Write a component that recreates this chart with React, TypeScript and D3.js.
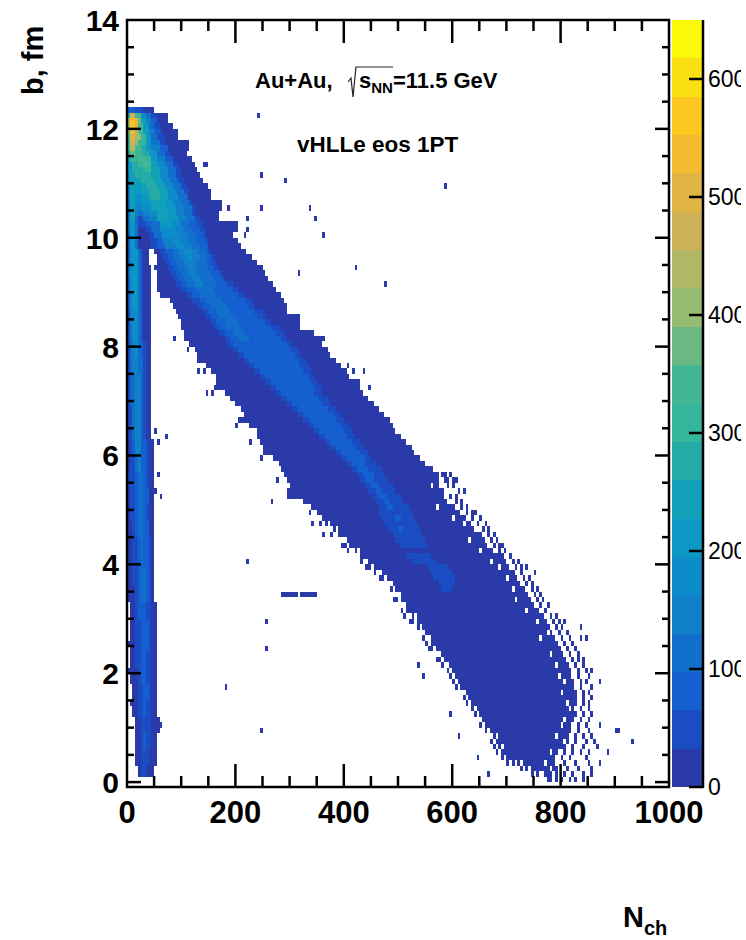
import React, { useEffect, useRef } from 'react';
import * as d3 from 'd3';

// colour of each of the 20 palette contours, lowest first
const bandColors = [
  '#2a3aa8', '#1a4cc4', '#1560d0', '#1270cc', '#1080c8', '#0c8cc8', '#0c98c4', '#10a0b8', '#25aba5', '#35b59a',
  '#45b695', '#6cb882', '#95bc70', '#b0b868', '#cdb058', '#e0b442', '#f2bb32', '#fcc820', '#fae010', '#fcf80a',
];
const bandTop = 650;
const bandStep = bandTop / bandColors.length;

const xMajor = [0, 200, 400, 600, 800, 1000];
const xMinor = [50, 100, 150, 250, 300, 350, 450, 500, 550, 650, 700, 750, 850, 900, 950];
const yMajor = [0, 2, 4, 6, 8, 10, 12, 14];
const yMinor = [0.5, 1, 1.5, 2.5, 3, 3.5, 4.5, 5, 5.5, 6.5, 7, 7.5, 8.5, 9, 9.5, 10.5, 11, 11.5, 12.5, 13, 13.5];
const zTicks = [0, 100, 200, 300, 400, 500, 600];

// rows above b=9.8: [b, nch, band, nch, band, ..., end nch]
const topRows = [
  [12.3, 0, 2, 15, 1, 30, 0, 46],
  [12.2, 0, 8, 5, 14, 15, 10, 25, 5, 35, 3, 45, 1, 55, 0, 75],
  [12.1, 0, 13, 5, 17, 15, 15, 20, 11, 25, 7, 35, 4, 45, 2, 55, 0, 75],
  [12.0, 0, 12, 5, 17, 15, 15, 20, 10, 30, 6, 40, 3, 50, 1, 60, 0, 85],
  [11.9, 0, 11, 5, 16, 15, 13, 20, 10, 30, 7, 40, 4, 50, 2, 60, 1, 65, 0, 95],
  [11.8, 0, 10, 5, 15, 15, 12, 25, 9, 35, 6, 45, 3, 55, 1, 70, 0, 95],
  [11.7, 0, 9, 5, 14, 15, 12, 20, 9, 35, 6, 45, 3, 60, 1, 70, 0, 115],
  [11.6, 0, 9, 5, 13, 15, 10, 25, 8, 35, 6, 45, 4, 60, 2, 75, 0, 115],
  [11.5, 0, 8, 5, 11, 15, 9, 30, 8, 40, 6, 55, 3, 70, 1, 80, 0, 110],
  [11.4, 0, 7, 5, 9, 20, 10, 35, 9, 45, 6, 55, 4, 70, 2, 85, 0, 120],
  [11.3, 0, 6, 10, 8, 20, 9, 30, 10, 45, 7, 55, 5, 70, 3, 85, 1, 95, 0, 125],
  [11.2, 0, 6, 10, 8, 30, 9, 45, 7, 60, 5, 75, 3, 90, 1, 100, 0, 130],
  [11.1, 0, 5, 5, 7, 15, 8, 45, 7, 60, 5, 75, 3, 90, 1, 100, 0, 135],
  [11.0, 0, 5, 5, 7, 25, 8, 50, 7, 65, 5, 80, 3, 95, 1, 105, 0, 140],
  [10.9, 0, 4, 5, 7, 15, 6, 25, 7, 35, 8, 55, 7, 70, 5, 85, 3, 100, 1, 110, 0, 150],
  [10.8, 0, 4, 5, 7, 15, 6, 25, 7, 40, 8, 60, 7, 75, 5, 90, 3, 105, 1, 115, 0, 155],
  [10.7, 0, 4, 5, 7, 15, 5, 25, 6, 40, 8, 60, 7, 75, 5, 95, 3, 110, 1, 115, 0, 155],
  [10.6, 0, 3, 5, 7, 15, 5, 25, 6, 45, 7, 70, 6, 85, 4, 100, 3, 115, 1, 120, 0, 175],
  [10.5, 0, 3, 5, 7, 15, 4, 25, 5, 45, 7, 70, 6, 90, 4, 105, 3, 120, 1, 125, 0, 175],
  [10.4, 0, 3, 5, 7, 15, 4, 20, 3, 30, 4, 40, 5, 55, 7, 75, 6, 90, 4, 105, 3, 120, 1, 125, 0, 170],
  [10.3, 0, 3, 5, 7, 15, 3, 20, 1, 30, 3, 40, 4, 55, 7, 75, 6, 95, 4, 110, 3, 125, 1, 135, 0, 170],
  [10.2, 0, 3, 5, 6, 15, 3, 20, 1, 35, 2, 45, 3, 60, 6, 85, 5, 100, 3, 115, 2, 130, 1, 140, 0, 205],
  [10.1, 0, 3, 5, 6, 15, 3, 20, 0, 35, 1, 45, 3, 60, 5, 90, 4, 105, 3, 120, 2, 135, 1, 145, 0, 205],
  [10.0, 0, 2, 5, 6, 15, 3, 20, 0, 40, 1, 50, 3, 65, 5, 95, 4, 110, 3, 125, 2, 140, 1, 145, 0, 195],
  [9.9, 0, 2, 5, 6, 15, 3, 20, 0, 45, 1, 55, 2, 65, 4, 85, 5, 100, 4, 115, 3, 130, 2, 145, 1, 150, 0, 205],
  [9.8, 0, 2, 5, 6, 15, 3, 20, 0, 45, 1, 55, 2, 70, 4, 90, 5, 105, 4, 120, 3, 135, 2, 150, 0, 210],
];

// low-multiplicity streak below b=9.8: [b from, b to, left, right, nch, band, ..., end nch]
const streakRows = [
  [9.5, 9.8, 0, 40, 0, 2, 5, 5, 10, 6, 20, 3, 25, 1, 30],
  [9.3, 9.5, 0, 42, 0, 3, 5, 5, 10, 6, 20, 3, 25, 1, 30],
  [9.0, 9.3, 0, 42, 0, 2, 5, 5, 10, 6, 20, 3, 25, 1, 30],
  [8.7, 9.0, 0, 42, 0, 2, 5, 4, 10, 6, 20, 3, 25, 1, 30],
  [8.4, 8.7, 0, 42, 0, 1, 5, 4, 10, 5, 20, 3, 25, 1, 30],
  [8.1, 8.4, 0, 42, 0, 1, 5, 3, 10, 5, 20, 3, 25, 1, 30],
  [7.8, 8.1, 0, 42, 0, 1, 5, 3, 10, 4, 15, 5, 20, 3, 25, 2, 30, 1, 35],
  [7.5, 7.8, 0, 45, 0, 1, 5, 3, 10, 4, 20, 3, 30, 1, 35],
  [7.2, 7.5, 0, 45, 0, 1, 5, 2, 10, 3, 15, 4, 25, 2, 30, 1, 35],
  [6.9, 7.2, 0, 45, 0, 1, 5, 2, 10, 3, 15, 4, 25, 2, 30, 1, 35],
  [6.6, 6.9, 0, 45, 0, 1, 10, 3, 15, 4, 25, 2, 30, 1, 35],
  [6.3, 6.6, 0, 45, 0, 1, 10, 3, 15, 4, 25, 2, 30, 1, 35],
  [6.0, 6.3, 0, 50, 5, 1, 10, 2, 15, 4, 25, 2, 35, 1, 40],
  [5.7, 6.0, 0, 50, 5, 1, 15, 3, 20, 4, 25, 2, 35, 1, 40],
  [5.4, 5.7, 0, 50, 0, 1, 15, 2, 20, 3, 30, 2, 35, 1, 40],
  [5.1, 5.4, 0, 50, 5, 1, 15, 2, 20, 3, 30, 2, 40],
  [4.8, 5.1, 0, 50, 5, 1, 15, 2, 20, 3, 30, 2, 35, 1, 40],
  [4.5, 4.8, 0, 50, 10, 1, 15, 2, 20, 3, 30, 2, 40],
  [4.2, 4.5, 0, 50, 10, 1, 20, 2, 25, 3, 30, 2, 40, 1, 45],
  [3.9, 4.2, 0, 50, 10, 1, 20, 2, 25, 3, 30, 2, 40, 1, 45],
  [3.6, 3.9, 0, 50, 10, 1, 20, 2, 25, 3, 35, 2, 40, 1, 45],
  [3.3, 3.6, 0, 50, 15, 1, 20, 2, 25, 3, 35, 2, 40, 1, 45],
  [3.0, 3.3, 5, 52, 15, 1, 20, 2, 35, 1, 45],
  [2.7, 3.0, 5, 52, 15, 1, 25, 2, 40, 1, 45],
  [2.4, 2.7, 5, 52, 15, 1, 25, 2, 40, 1, 45],
  [2.1, 2.4, 5, 55, 15, 1, 25, 2, 35, 1, 45],
  [1.8, 2.1, 5, 55, 20, 1, 25, 2, 35, 1, 45],
  [1.5, 1.8, 10, 55, 20, 1, 30, 2, 40, 1, 45],
  [1.2, 1.5, 10, 55, 20, 1, 30, 2, 35, 1, 45],
  [0.9, 1.2, 15, 57, 25, 1, 45],
  [0.6, 0.9, 15, 55, 25, 1, 30, 2, 35, 1, 45],
  [0.3, 0.6, 15, 53, 25, 1, 40],
  [0.1, 0.3, 20, 48, 25, 1, 35],
];

// main ridge below b=9.8, dark contour extent: [b, left nch, right nch]
const ridgeEdges = [
  [9.7, 50, 220], [9.6, 55, 230], [9.5, 55, 240], [9.4, 50, 250], [9.3, 55, 255], [9.2, 55, 260], [9.1, 55, 270],
  [9.0, 55, 275], [8.9, 60, 285], [8.8, 80, 290], [8.7, 85, 295], [8.6, 90, 295], [8.5, 95, 320], [8.4, 100, 320],
  [8.3, 100, 320], [8.2, 105, 345], [8.1, 105, 365], [8.0, 115, 360], [7.9, 125, 370], [7.8, 130, 375], [7.7, 130, 385],
  [7.6, 145, 395], [7.5, 155, 405], [7.4, 165, 410], [7.3, 165, 430], [7.2, 160, 430], [7.1, 180, 435], [7.0, 190, 445],
  [6.9, 200, 455], [6.8, 210, 465], [6.7, 215, 475], [6.6, 205, 485], [6.5, 225, 490], [6.4, 240, 495], [6.3, 240, 505],
  [6.2, 245, 515], [6.1, 250, 525], [6.0, 250, 530], [5.9, 270, 540], [5.8, 280, 550], [5.7, 285, 565], [5.6, 290, 575],
  [5.5, 295, 575], [5.4, 300, 575], [5.3, 295, 585], [5.2, 310, 585], [5.1, 325, 595], [5.0, 340, 605], [4.9, 350, 615],
  [4.8, 360, 625], [4.7, 375, 635], [4.6, 380, 645], [4.5, 390, 655], [4.4, 400, 660], [4.3, 410, 665], [4.2, 420, 675],
  [4.1, 430, 695], [4.0, 445, 700], [3.9, 455, 705], [3.8, 470, 715], [3.7, 480, 720], [3.6, 490, 725], [3.5, 495, 735],
  [3.4, 500, 740], [3.3, 505, 745], [3.2, 510, 750], [3.1, 515, 760], [3.0, 525, 770], [2.9, 535, 775], [2.8, 545, 780],
  [2.7, 550, 785], [2.6, 555, 790], [2.5, 560, 795], [2.4, 570, 800], [2.3, 580, 805], [2.2, 585, 810], [2.1, 590, 815],
  [2.0, 600, 820], [1.9, 605, 820], [1.8, 610, 825], [1.7, 615, 825], [1.6, 625, 830], [1.5, 630, 830], [1.4, 635, 830],
  [1.3, 645, 825], [1.2, 650, 830], [1.1, 655, 825], [1.0, 660, 820], [0.9, 670, 820], [0.8, 675, 815], [0.7, 680, 815],
  [0.6, 685, 810], [0.5, 690, 795], [0.4, 700, 790], [0.3, 720, 790], [0.2, 735, 795], [0.1, 755, 795], [0.0, 775, 805],
];

// brighter contours inside the ridge: [b, nch, band, ..., end nch]
const ridgeInner = [
  [9.7, 60, 1, 70, 2, 85, 3, 95, 4, 105, 5, 120, 4, 130, 3, 145, 2, 150, 1, 155],
  [9.6, 65, 1, 75, 2, 85, 3, 100, 4, 110, 5, 120, 4, 135, 3, 145, 2, 155, 1, 160],
  [9.5, 70, 1, 80, 2, 90, 3, 105, 4, 125, 3, 145, 2, 155, 1, 165],
  [9.4, 75, 1, 85, 2, 95, 3, 110, 4, 125, 3, 150, 2, 160, 1, 170],
  [9.3, 80, 1, 90, 2, 100, 3, 115, 4, 130, 3, 155, 2, 170, 1, 175],
  [9.2, 85, 1, 95, 2, 105, 3, 120, 4, 135, 3, 160, 2, 175, 1, 180],
  [9.1, 90, 1, 100, 2, 110, 3, 125, 4, 140, 3, 165, 2, 185, 1, 195],
  [9.0, 100, 1, 110, 2, 125, 3, 160, 2, 195, 1, 205],
  [8.9, 110, 1, 120, 2, 135, 3, 165, 2, 205, 1, 215],
  [8.8, 120, 1, 135, 2, 145, 3, 175, 2, 220, 1, 230],
  [8.7, 130, 1, 140, 2, 155, 3, 185, 2, 225, 1, 235],
  [8.6, 140, 1, 150, 2, 165, 3, 190, 2, 235, 1, 250],
  [8.5, 145, 1, 155, 2, 170, 3, 195, 2, 240, 1, 255],
  [8.4, 155, 1, 165, 2, 180, 3, 205, 2, 255, 1, 265],
  [8.3, 160, 1, 170, 2, 185, 3, 210, 2, 265, 1, 280],
  [8.2, 170, 1, 180, 2, 195, 3, 215, 2, 275, 1, 290],
  [8.1, 180, 1, 190, 2, 205, 3, 225, 2, 285, 1, 295],
  [8.0, 185, 1, 195, 2, 295, 1, 305],
  [7.9, 195, 1, 205, 2, 300, 1, 315],
  [7.8, 205, 1, 215, 2, 310, 1, 320],
  [7.7, 215, 1, 225, 2, 315, 1, 330],
  [7.6, 225, 1, 235, 2, 320, 1, 335],
  [7.5, 235, 1, 245, 2, 325, 1, 340],
  [7.4, 245, 1, 255, 2, 335, 1, 345],
  [7.3, 255, 1, 265, 2, 340, 1, 350],
  [7.2, 265, 1, 275, 2, 345, 1, 358],
  [7.1, 275, 1, 285, 2, 345, 1, 360],
  [7.0, 285, 1, 295, 2, 355, 1, 370],
  [6.9, 295, 1, 305, 2, 360, 1, 375],
  [6.8, 305, 1, 315, 2, 370, 1, 385],
  [6.7, 315, 1, 325, 2, 380, 1, 395],
  [6.6, 325, 1, 335, 2, 385, 1, 400],
  [6.5, 335, 1, 345, 2, 395, 1, 410],
  [6.4, 345, 1, 355, 2, 400, 1, 415],
  [6.3, 355, 1, 365, 2, 405, 1, 420],
  [6.2, 365, 1, 375, 2, 415, 1, 430],
  [6.1, 375, 1, 385, 2, 420, 1, 435],
  [6.0, 385, 1, 395, 2, 430, 1, 445],
  [5.9, 395, 1, 405, 2, 440, 1, 450],
  [5.8, 405, 1, 415, 2, 440, 1, 460],
  [5.7, 415, 1, 425, 2, 445, 1, 470],
  [5.6, 425, 1, 435, 2, 455, 1, 475],
  [5.5, 430, 1, 440, 2, 455, 1, 480],
  [5.4, 440, 1, 450, 2, 465, 1, 490],
  [5.3, 445, 1, 460, 2, 470, 1, 495],
  [5.2, 455, 1, 465, 2, 480, 1, 505],
  [5.1, 460, 1, 475, 2, 485, 1, 510],
  [5.0, 465, 1, 480, 2, 490, 1, 520],
  [4.9, 465, 1, 525],
  [4.8, 470, 1, 495, 2, 505, 1, 530],
  [4.7, 475, 1, 535],
  [4.6, 480, 1, 500, 2, 510, 1, 540],
  [4.5, 490, 1, 545],
  [4.4, 495, 1, 550],
  [4.3, 505, 1, 555],
  [4.1, 515, 1, 560],
  [4.0, 525, 1, 570],
  [3.9, 555, 1, 590],
  [3.8, 560, 1, 600],
  [3.7, 565, 1, 605],
  [3.6, 575, 1, 605],
  [3.5, 580, 1, 600],
];

// isolated single-count bins: [nch, b]
const strayCells = [
  [240, 12.2], [245, 11.1], [290, 11.0], [140, 11.3], [145, 11.3], [185, 10.5], [245, 10.5], [335, 10.5], [345, 10.3],
  [220, 10.3], [220, 10.1], [215, 10.0], [315, 9.3], [585, 10.9], [475, 9.1], [360, 10.0], [420, 9.4],
  [85, 8.1], [110, 7.9], [140, 7.8], [130, 7.5], [140, 7.5], [145, 7.1], [155, 7.1], [70, 6.3], [55, 6.2], [60, 5.2],
  [265, 5.1], [360, 4.5], [200, 6.5], [225, 6.2], [245, 5.9], [275, 5.5], [295, 5.2], [300, 5.2], [305, 5.2], [310, 5.2],
  [340, 4.7], [375, 7.5], [415, 7.5], [435, 7.5], [405, 7.6], [445, 7.2], [450, 6.5], [460, 6.5],
  [535, 2.1], [545, 1.9], [610, 0.8], [595, 1.2], [665, 0.1], [645, 0.4], [905, 0.9], [900, 0.9], [930, 0.7], [885, 0.5],
  [222, 4.0], [258, 2.9], [258, 2.4], [180, 1.7], [249, 0.9],
  [285, 3.4], [290, 3.4], [295, 3.4], [300, 3.4], [305, 3.4], [310, 3.4], [320, 3.4], [325, 3.4], [330, 3.4], [335, 3.4], [340, 3.4], [345, 3.4],
  [50, 6.4], [55, 5.6], [50, 5.3], [60, 1.0], [0, 2.5], [0, 2.0], [5, 1.4],
];

// scattered bins around the ragged lower edges: [b, nch, nch, ...]
const speckleRows = [
  [5.6, 580, 585, 595], [5.5, 585, 590, 600, 605], [5.4, 590, 600], [5.3, 610, 620], [5.2, 595, 605], [5.1, 605, 615],
  [5.0, 615, 625], [4.9, 335, 625, 635, 640], [4.8, 635, 650], [4.7, 355, 365, 645, 660], [4.6, 655, 665], [4.5, 375, 665, 675],
  [4.4, 670, 680], [4.3, 395, 400, 675, 685, 690], [4.2, 405, 685, 695], [4.1, 705], [4.0, 430, 710, 720],
  [3.9, 440, 445, 715, 725, 735], [3.8, 455, 725, 750], [3.7, 465, 470, 730, 740], [3.6, 735, 745], [3.5, 485, 745, 755],
  [3.4, 750, 760], [3.3, 490, 495, 755, 765], [3.2, 760, 775], [3.1, 505, 770], [3.0, 510, 780, 790],
  [2.9, 520, 525, 785, 795, 805], [2.8, 535, 790, 800, 835], [2.7, 795, 810], [2.6, 545, 800, 815, 835, 845], [2.5, 550, 805, 820],
  [2.4, 555, 560, 810, 825], [2.3, 815, 830], [2.2, 570, 575, 820, 830, 840], [2.1, 580, 825, 840], [2.0, 590, 830, 845, 855],
  [1.9, 595, 830, 850], [1.8, 600, 835, 845, 870], [1.7, 605, 835, 855], [1.6, 840, 850], [1.5, 620, 840, 858], [1.4, 625, 840, 850],
  [1.3, 635, 835, 850], [1.2, 640, 840, 855], [1.1, 835, 850], [1.0, 650, 830, 845, 870], [0.9, 660, 830, 850],
  [0.8, 825, 840, 855], [0.7, 670, 825, 845, 860], [0.6, 675, 820, 840, 865], [0.5, 680, 805, 820, 835, 850], [0.4, 690, 800, 815, 845],
  [0.3, 700, 710, 805, 825, 850, 870], [0.2, 725, 810, 830, 855], [0.1, 745, 805, 820, 840, 855], [0.0, 815, 825, 840],
];

// empty bins inside the dark contour near its edges: [nch, b]
const holeCells = [
  [560, 5.4], [570, 5.0], [590, 5.1], [600, 4.8], [620, 4.7], [630, 4.4], [640, 4.6], [650, 4.2], [670, 4.0], [685, 3.9],
  [700, 3.7], [710, 3.5], [715, 3.3], [735, 3.1], [755, 2.9], [760, 2.6], [775, 2.7], [780, 2.3], [790, 2.1], [795, 1.9],
  [805, 1.8], [800, 1.6], [810, 1.4], [815, 1.3], [805, 1.1], [800, 1.0], [790, 0.8], [805, 0.7], [780, 0.5], [770, 0.3],
  [780, 0.2], [765, 0.1], [785, 0.1], [785, 0.0], [795, 0.0],
  [640, 1.3], [650, 1.1], [665, 0.9], [680, 0.8], [690, 0.6], [695, 0.4], [725, 0.3], [740, 0.2], [760, 0.1], [620, 1.6],
  [590, 2.1], [575, 2.3], [555, 2.6], [540, 2.8], [530, 3.0], [510, 3.2], [500, 3.4], [485, 3.6], [465, 3.8], [440, 4.0],
  [425, 4.2], [400, 4.4], [385, 4.6], [370, 4.7], [335, 5.0],
];

const cellKey = (nch: number, b: number) => `${Math.round(nch)}|${Math.round(b * 10)}`;

const App = () => {
  const svgRef = useRef<SVGSVGElement | null>(null);

  useEffect(() => {
    const svg = d3.select(svgRef.current);
    svg.selectAll('*').remove();

    const x = d3.scaleLinear().domain([0, 1000]).range([127, 669]);
    const y = d3.scaleLinear().domain([-0.09, 14]).range([787, 20]);
    const z = d3.scaleLinear().domain([0, bandTop]).range([787, 20]);

    // paint runs into a grid of 5 x 0.1 bins
    const grid = new Map<string, { nch: number; b: number; band: number }>();
    const paint = (nch: number, b: number, band: number) => grid.set(cellKey(nch, b), { nch, b, band });
    const paintRuns = (b: number, runs: number[]) => {
      for (let i = 0; i + 2 < runs.length; i += 2) {
        for (const n of d3.range(runs[i], runs[i + 2], 5)) paint(n, b, runs[i + 1]);
      }
    };

    topRows.forEach(([b, ...runs]) => paintRuns(b, runs));
    streakRows.forEach(([from, to, left, right, ...runs]) => {
      for (let k = Math.round(from * 10); k < Math.round(to * 10); k++) {
        paintRuns(k / 10, [left, 0, right]);
        paintRuns(k / 10, runs);
      }
    });
    ridgeEdges.forEach(([b, left, right]) => paintRuns(b, [left, 0, right]));
    ridgeInner.forEach(([b, ...runs]) => paintRuns(b, runs));
    strayCells.forEach(([nch, b]) => paint(Math.floor(nch / 5) * 5, b, 0));
    speckleRows.forEach(([b, ...bins]) => bins.forEach(n => paint(Math.floor(n / 5) * 5, b, 0)));
    holeCells.forEach(([nch, b]) => grid.delete(cellKey(nch, b)));

    svg.append('g')
      .attr('shape-rendering', 'crispEdges')
      .selectAll('rect')
      .data(Array.from(grid.values()))
      .join('rect')
      .attr('x', d => x(d.nch))
      .attr('y', d => y(d.b + 0.1))
      .attr('width', d => x(d.nch + 5) - x(d.nch))
      .attr('height', d => y(d.b) - y(d.b + 0.1))
      .attr('fill', d => bandColors[d.band]);

    // palette
    svg.append('g')
      .attr('shape-rendering', 'crispEdges')
      .selectAll('rect')
      .data(bandColors)
      .join('rect')
      .attr('x', 672)
      .attr('width', 31)
      .attr('y', (_, i) => z((i + 1) * bandStep))
      .attr('height', (_, i) => z(i * bandStep) - z((i + 1) * bandStep))
      .attr('fill', d => d);

    // frame and ticks
    const black = '#000';
    svg.append('rect')
      .attr('x', 127).attr('y', 20).attr('width', 542).attr('height', 767)
      .attr('fill', 'none').attr('stroke', black).attr('stroke-width', 2.5);

    const ticks = svg.append('g').attr('stroke', black).attr('stroke-width', 2.5);
    const xTick = (vals: number[], len: number) => vals.forEach(v => {
      ticks.append('line').attr('x1', x(v)).attr('x2', x(v)).attr('y1', 787).attr('y2', 787 - len);
      ticks.append('line').attr('x1', x(v)).attr('x2', x(v)).attr('y1', 20).attr('y2', 20 + len);
    });
    const yTick = (vals: number[], len: number) => vals.forEach(v => {
      ticks.append('line').attr('x1', 127).attr('x2', 127 + len).attr('y1', y(v)).attr('y2', y(v));
      ticks.append('line').attr('x1', 669).attr('x2', 669 - len).attr('y1', y(v)).attr('y2', y(v));
    });
    xTick(xMajor.slice(1, -1), 23);
    xTick(xMinor, 11);
    yTick(yMajor.slice(0, -1), 14);
    yTick(yMinor, 7);

    ticks.append('line').attr('x1', 703).attr('x2', 703).attr('y1', 20).attr('y2', 788);
    zTicks.forEach(v => {
      ticks.append('line').attr('x1', 689).attr('x2', 703).attr('y1', z(v)).attr('y2', z(v));
    });

    // tick labels
    const font = '"Liberation Sans", Arial, sans-serif';
    const labels = svg.append('g').attr('font-family', font).attr('font-weight', 700).attr('fill', black);
    labels.selectAll('.xl').data(xMajor).join('text')
      .attr('x', d => x(d)).attr('y', 823)
      .attr('text-anchor', 'middle').attr('font-size', 31)
      .text(d => d);
    labels.selectAll('.yl').data(yMajor).join('text')
      .attr('x', 119).attr('y', d => y(d) + 11)
      .attr('text-anchor', 'end').attr('font-size', 30)
      .text(d => d);

    svg.append('clipPath').attr('id', 'zclip')
      .append('rect').attr('x', 700).attr('y', 0).attr('width', 41).attr('height', 940);
    svg.append('g').attr('clip-path', 'url(#zclip)')
      .attr('font-family', font).attr('font-size', 23).attr('fill', black)
      .selectAll('text').data(zTicks).join('text')
      .attr('x', 708).attr('y', d => z(d) + 8)
      .text(d => d);

    // titles
    labels.append('text')
      .attr('transform', 'translate(43,95) rotate(-90)')
      .attr('font-size', 29)
      .text('b, fm');

    const nch = labels.append('text').attr('x', 623).attr('y', 927).attr('font-size', 29);
    nch.append('tspan').text('N');
    nch.append('tspan').attr('dy', 8).attr('font-size', 20).text('ch');

    const head = labels.append('text').attr('x', 255).attr('y', 88).attr('font-size', 22);
    head.append('tspan').text('Au+Au,');
    const sqrt = labels.append('text').attr('x', 359).attr('y', 88).attr('font-size', 22);
    sqrt.append('tspan').text('s');
    sqrt.append('tspan').attr('dy', 5).attr('font-size', 15).text('NN');
    sqrt.append('tspan').attr('dy', -5).text('=11.5 GeV');
    svg.append('path')
      .attr('d', 'M348 82 L351 78 L353 97 L356 67 L393 67')
      .attr('fill', 'none').attr('stroke', '#222').attr('stroke-width', 1.2);

    labels.append('text').attr('x', 297).attr('y', 152).attr('font-size', 22.5).text('vHLLe eos 1PT');
  }, []);

  return (
    <svg
      ref={svgRef}
      width={746}
      height={940}
      style={{ position: 'absolute', left: 0, top: 0, background: '#fff' }}
    />
  );
};

export default App;
